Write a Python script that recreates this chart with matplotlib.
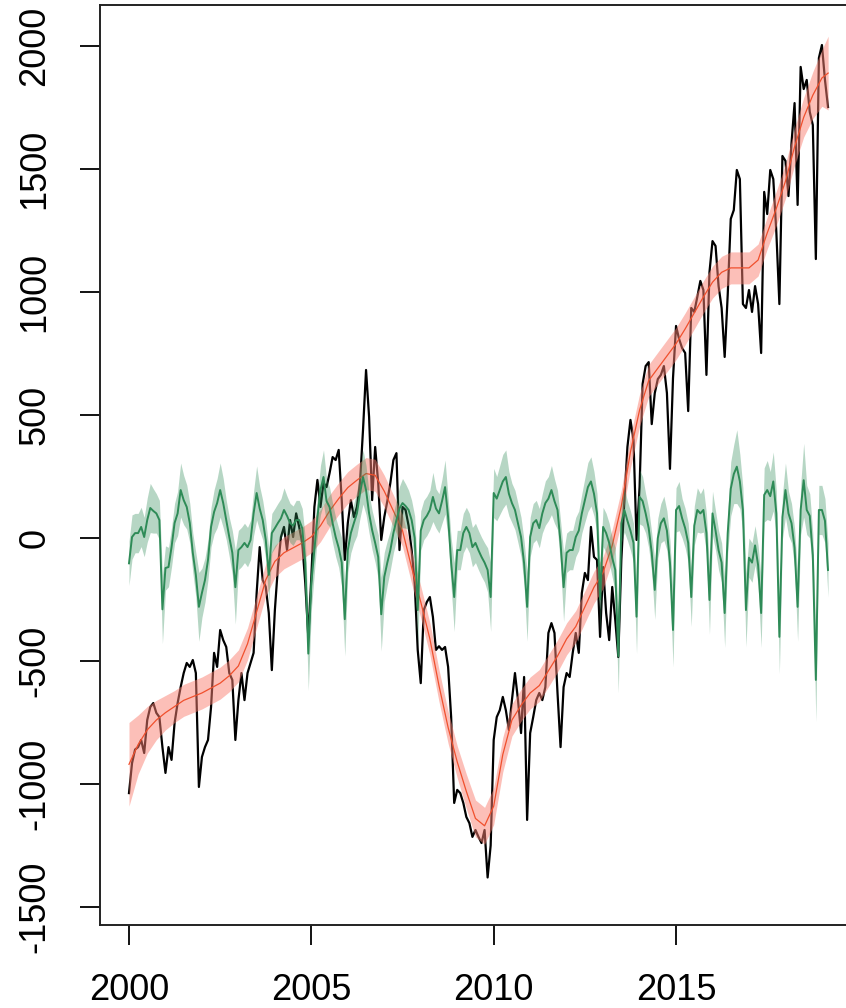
import numpy as np
import matplotlib
matplotlib.use("Agg")
import matplotlib.pyplot as plt

plt.rcParams['font.family'] = ['Liberation Sans', 'DejaVu Sans']

# monthly series, Jan 2000 onwards
start_year = 2000
observed = [
    -1037, -915, -860, -850, -821, -874, -740, -687, -671, -711, -728, -850,
    -955, -850, -902, -752, -671, -606, -549, -508, -524, -496, -549, -1012,
    -890, -850, -821, -687, -467, -524, -374, -415, -443, -549, -577, -821,
    -659, -549, -659, -549, -508, -467, -224, -37, -171, -199, -305, -537,
    -293, -118, 4, 45, -49, 73, 4, 100, 45, -20, -183, -402,
    -158, 126, 236, 126, 224, 207, 264, 329, 317, 358, 154, -89,
    61, 154, 85, 126, 224, 439, 683, 492, 154, 370, 224, -8,
    85, 150, 224, 317, 345, -49, 126, 114, 50, -49, -183, -455,
    -590, -293, -260, -240, -321, -455, -440, -455, -443, -524, -728, -1077,
    -1024, -1037, -1077, -1134, -1159, -1215, -1187, -1215, -1240, -1187, -1380, -1250,
    -821, -728, -700, -646, -700, -780, -659, -549, -659, -793, -565, -1146,
    -793, -728, -659, -630, -659, -606, -386, -346, -386, -630, -850, -606,
    -549, -565, -467, -386, -467, -224, -142, -171, 45, -77, -89, -402,
    -118, -305, -415, -199, -333, -484, -89, 154, 370, 480, 398, -8,
    207, 626, 699, 715, 463, 589, 646, 663, 699, 589, 281, 650,
    862, 809, 772, 752, 516, 935, 919, 980, 1045, 1008, 663, 1081,
    1207, 1187, 1024, 935, 736, 988, 1297, 1333, 1496, 1459, 951, 935,
    1008, 919, 1024, 951, 752, 1407, 1317, 1496, 1459, 1244, 951, 1553,
    1533, 1390, 1606, 1768, 1354, 1915, 1825, 1862, 1732, 1679, 1134, 1951,
    2004, 1862, 1752,
]

seasonal = [
    -103, 4, 20, 20, 45, 4, 73, 122, 110, 100, 73, -290,
    -122, -118, -37, 61, 100, 195, 154, 126, 61, -61, -150, -280,
    -223, -171, -89, 45, 106, 142, 195, 142, 73, 4, -60, -200,
    -49, -37, -20, -37, -8, 100, 183, 120, 73, -8, -150, 20,
    40, 61, 80, 114, 90, 61, 50, 73, 73, 40, -100, -470,
    -183, -49, 85, 195, 248, 150, 126, 60, 4, -40, -100, -330,
    -49, 20, 61, 100, 180, 248, 195, 100, 32, -20, -77, -310,
    -158, -100, -49, 20, 73, 120, 142, 130, 114, 73, 0, -293,
    30, 73, 90, 114, 167, 120, 100, 150, 207, 85, -100, -240,
    -49, -49, 20, 45, 20, -37, -20, -50, -77, -100, -130, -240,
    183, 160, 195, 230, 248, 180, 142, 114, 60, 4, -102, -280,
    4, 60, 73, 40, 100, 142, 160, 195, 150, 114, -20, -200,
    -60, -49, -49, 4, 30, 100, 154, 207, 230, 180, 100, -250,
    45, 20, -20, -80, -130, -480, 60, 114, 70, 30, -20, -320,
    167, 150, 100, 40, -60, -211, 0, 60, 80, 30, -100, -374,
    114, 130, 80, 40, -20, -240, 50, 114, 100, 114, 20, -252,
    100, 30, -50, -100, -305, 20, 200, 260, 290, 230, 114, -293,
    -80, -100, -30, -110, -305, 175, 195, 170, 230, 100, -402, 85,
    195, 100, 60, -40, -280, 114, 235, 114, 90, -70, -577, 114,
    114, 70, -130,
]

seasonal_spread = [
    90, 90, 80, 80, 80, 80, 90, 100, 90, 80, 80, 140,
    90, 80, 80, 80, 90, 110, 100, 90, 80, 80, 90, 140,
    100, 90, 80, 80, 90, 100, 110, 100, 80, 80, 90, 150,
    80, 80, 80, 80, 80, 90, 110, 90, 80, 80, 110, 80,
    80, 80, 80, 90, 80, 80, 80, 80, 80, 80, 100, 150,
    110, 90, 80, 100, 110, 90, 80, 80, 80, 80, 100, 150,
    90, 80, 80, 90, 100, 110, 100, 80, 80, 80, 90, 150,
    100, 90, 80, 80, 80, 90, 100, 90, 80, 80, 90, 150,
    80, 80, 80, 80, 100, 80, 80, 90, 110, 80, 100, 140,
    80, 80, 80, 80, 80, 80, 80, 80, 80, 80, 90, 140,
    100, 90, 100, 110, 110, 90, 80, 80, 80, 80, 90, 140,
    80, 80, 80, 80, 80, 90, 90, 100, 90, 80, 90, 140,
    80, 80, 80, 80, 80, 80, 90, 100, 100, 90, 80, 140,
    80, 80, 80, 80, 90, 150, 80, 90, 80, 80, 80, 150,
    110, 100, 80, 80, 80, 120, 80, 80, 90, 80, 90, 150,
    90, 100, 80, 80, 80, 120, 80, 90, 80, 90, 80, 140,
    90, 80, 80, 80, 140, 80, 110, 120, 150, 110, 90, 150,
    80, 80, 80, 80, 140, 110, 120, 100, 120, 90, 150, 90,
    110, 90, 80, 80, 140, 100, 150, 100, 90, 90, 170, 100,
    100, 90, 110,
]

# smooth trend, quarterly
trend_years = [
    2000.00, 2000.25, 2000.50, 2000.75, 2001.00, 2001.25, 2001.50, 2001.75,
    2002.00, 2002.25, 2002.50, 2002.75, 2003.00, 2003.25, 2003.50, 2003.75,
    2004.00, 2004.25, 2004.50, 2004.75, 2005.00, 2005.25, 2005.50, 2005.75,
    2006.00, 2006.25, 2006.50, 2006.75, 2007.00, 2007.25, 2007.50, 2007.75,
    2008.00, 2008.25, 2008.50, 2008.75, 2009.00, 2009.25, 2009.50, 2009.75,
    2010.00, 2010.25, 2010.50, 2010.75, 2011.00, 2011.25, 2011.50, 2011.75,
    2012.00, 2012.25, 2012.50, 2012.75, 2013.00, 2013.25, 2013.50, 2013.75,
    2014.00, 2014.25, 2014.50, 2014.75, 2015.00, 2015.25, 2015.50, 2015.75,
    2016.00, 2016.25, 2016.50, 2016.75, 2017.00, 2017.25, 2017.50, 2017.75,
    2018.00, 2018.25, 2018.50, 2018.75, 2019.00, 2019.17,
]
trend = [
    -920, -840, -780, -740, -710, -685, -660, -645,
    -630, -610, -590, -560, -520, -430, -300, -170,
    -95, -60, -40, -20, 5, 50, 110, 160,
    205, 235, 262, 255, 190, 110, 30, -120,
    -260, -410, -600, -770, -910, -1030, -1140, -1170,
    -1090, -880, -740, -680, -630, -600, -540, -480,
    -410, -360, -280, -200, -140, -30, 130, 350,
    520, 640, 690, 740, 790, 850, 915, 980,
    1040, 1080, 1098, 1098, 1098, 1130, 1240, 1340,
    1450, 1590, 1710, 1800, 1870, 1890,
]
trend_spread = [
    170, 120, 95, 80, 70, 65, 65, 65,
    65, 65, 65, 65, 65, 65, 65, 65,
    65, 65, 65, 65, 65, 65, 65, 65,
    65, 65, 65, 65, 65, 65, 65, 65,
    65, 65, 65, 65, 65, 70, 75, 75,
    75, 70, 65, 65, 65, 65, 65, 65,
    65, 65, 65, 65, 65, 65, 65, 65,
    65, 65, 65, 65, 65, 65, 65, 65,
    65, 65, 65, 65, 65, 65, 65, 70,
    70, 75, 80, 95, 115, 150,
]

x_ticks = [2000, 2005, 2010, 2015]
y_ticks = [-1500, -1000, -500, 0, 500, 1000, 1500, 2000]

months = start_year + np.arange(len(observed)) / 12.0
obs = np.array(observed, dtype=float)
sea = np.array(seasonal, dtype=float)
sea_w = np.array(seasonal_spread, dtype=float)
ty = np.array(trend_years)
tr = np.array(trend, dtype=float)
tr_w = np.array(trend_spread, dtype=float)

fig = plt.figure(figsize=(8.46, 10.08), dpi=100)
ax = fig.add_axes([100 / 846, 83 / 1008, 753.6 / 846, 920 / 1008])

ax.plot(months, obs, color='black', lw=1.6, zorder=2)
ax.fill_between(ty, tr - tr_w, tr + tr_w, color='salmon', alpha=0.5, lw=0, zorder=3)
ax.plot(ty, tr, color='#f0502d', lw=0.9, zorder=4)
ax.fill_between(months, sea - sea_w, sea + sea_w,
                color='seagreen', alpha=0.35, lw=0, zorder=5)
ax.plot(months, sea, color='seagreen', lw=1.4, zorder=6)

ax.set_xlim(1999.205, 1999.205 + 753.6 / 36.47)
ax.set_ylim(-1573.2, 2166.7)

ax.set_xticks(x_ticks)
ax.set_yticks(y_ticks)
ax.set_yticklabels([str(v) for v in y_ticks], rotation=90, va='center')
ax.tick_params(length=14.4, width=1.3, pad=20, labelsize=26, colors='black')
for s in ax.spines.values():
    s.set_linewidth(1.4)
    s.set_color('#222222')

fig.savefig('out.png', dpi=100)
